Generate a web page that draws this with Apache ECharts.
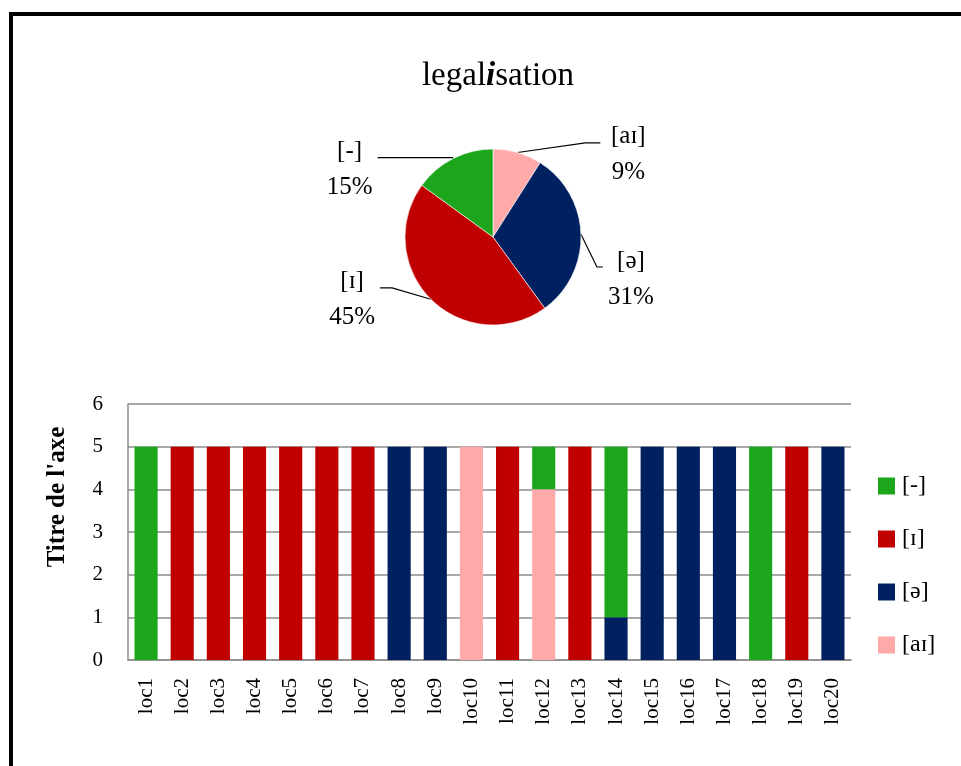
<!DOCTYPE html>
<html><head><meta charset="utf-8">
<script src="https://cdn.jsdelivr.net/npm/echarts@6/dist/echarts.min.js"></script>
<style>html,body{margin:0;padding:0;background:#fff}#c{width:961px;height:766px}</style>
</head><body><div id="c"></div>
<script>
const categories = ['loc1','loc2','loc3','loc4','loc5','loc6','loc7','loc8','loc9','loc10','loc11','loc12','loc13','loc14','loc15','loc16','loc17','loc18','loc19','loc20'];
const legendOrder = ['[-]','[ɪ]','[ə]','[aɪ]'];
const valsDash  = [5,0,0,0,0,0,0,0,0,0,0,1,0,4,0,0,0,5,0,0];
const valsI     = [0,5,5,5,5,5,5,0,0,0,5,0,5,0,0,0,0,0,5,0];
const valsSchwa = [0,0,0,0,0,0,0,5,5,0,0,0,0,1,5,5,5,0,0,5];
const valsAI    = [0,0,0,0,0,0,0,0,0,5,0,4,0,0,0,0,0,0,0,0];
const pieNames  = ['[aɪ]','[ə]','[ɪ]','[-]'];
const pieValues = [9,31,45,15];
const yMin = 0, yMax = 6, yStep = 1;

const FONT = 'Liberation Serif';
const colors = {'[-]':'#1CA61C','[ɪ]':'#C00000','[ə]':'#002060','[aɪ]':'#FFA9A9'};
// label line lengths per pie slice (style, not data)
const pieLineLen = {'[aɪ]':[10,80],'[ə]':[8,14],'[ɪ]':[8,45],'[-]':[1,75]};

const chart = echarts.init(document.getElementById('c'));
const barSeries = [['[aɪ]',valsAI],['[ə]',valsSchwa],['[ɪ]',valsI],['[-]',valsDash]].map(([n,v]) => ({
  name: n, type: 'bar', stack: 'all', data: v, barWidth: '64%',
  itemStyle: {color: colors[n]}, xAxisIndex: 0, yAxisIndex: 0
}));

const pieData = pieNames.map((n,i) => ({
  name: n, value: pieValues[i],
  itemStyle: {color: colors[n]},
  labelLine: {length: pieLineLen[n][0], length2: pieLineLen[n][1]}
}));

chart.setOption({
  animation: false,
  textStyle: {fontFamily: FONT},
  title: {
    text: '{n|legal}{i|i}{n|sation}', left: 493, top: 55, textAlign: 'center',
    textStyle: {fontWeight: 'normal', rich: {
      n: {fontFamily: FONT, fontSize: 33, color: '#000', fontWeight: 'normal'},
      i: {fontFamily: FONT, fontSize: 33, color: '#000', fontStyle: 'italic', fontWeight: 'bold'}
    }}
  },
  legend: {
    data: legendOrder, orient: 'vertical', left: 873, top: 468,
    itemWidth: 17, itemHeight: 17, itemGap: 27, icon: 'rect',
    textStyle: {fontFamily: FONT, fontSize: 24, color: '#000', lineHeight: 26, padding: [0,0,0,2]}
  },
  graphic: [{type: 'rect', shape: {x: 11, y: 14, width: 1000, height: 1000},
    style: {fill: 'none', stroke: '#000', lineWidth: 4}, silent: true, z: 100}],
  grid: {left: 128, right: 110, top: 404, bottom: 106},
  xAxis: {
    type: 'category', data: categories,
    axisLine: {lineStyle: {color: '#8C8C8C', width: 1.5}},
    axisTick: {show: false},
    axisLabel: {rotate: 90, margin: 18, fontFamily: FONT, fontSize: 21, color: '#000', interval: 0}
  },
  yAxis: {
    type: 'value', min: yMin, max: yMax, interval: yStep,
    name: "Titre de l'axe", nameLocation: 'middle', nameGap: 58,
    nameTextStyle: {fontFamily: FONT, fontSize: 25, fontWeight: 'bold', color: '#000', padding: [0,0,0,70]},
    axisLine: {show: true, lineStyle: {color: '#8C8C8C', width: 1.5}},
    axisTick: {show: false},
    splitLine: {lineStyle: {color: '#8C8C8C', width: 1.5}},
    axisLabel: {margin: 25, fontFamily: FONT, fontSize: 21, color: '#000'}
  },
  series: barSeries.concat([{
    type: 'pie', center: [493, 237], radius: 88, startAngle: 90, clockwise: true,
    avoidLabelOverlap: false,
    data: pieData,
    itemStyle: {borderColor: '#fff', borderWidth: 0.6},
    label: {
      show: true, position: 'outside', distanceToLabelLine: 3, padding: [24,0,0,0],
      formatter: p => '{a|' + p.name + '}\n{a|' + Math.round(p.percent) + '%}',
      rich: {a: {width: 50, align: 'center', lineHeight: 36, fontSize: 25, fontFamily: FONT, color: '#000'}}
    },
    labelLine: {show: true, smooth: false, lineStyle: {color: '#000', width: 1.2}},
    labelLayout: function (params) {
      const p = params.labelLinePoints;
      if (!p) return {};
      if (params.dataIndex === 0) {
        return {labelLinePoints: [p[0], [p[2][0] - 15, p[2][1]], p[2]]};
      }
      if (params.dataIndex === 1) {
        const dy = 33;
        return {dy: dy, labelLinePoints: [p[0], [p[1][0] + 8, p[1][1] + dy], [p[2][0], p[2][1] + dy]]};
      }
      if (params.dataIndex === 2) {
        const dy = -17;
        return {dy: dy, labelLinePoints: [p[0], [p[2][0] + 12, p[2][1] + dy], [p[2][0], p[2][1] + dy]]};
      }
      return {};
    }
  }])
});
</script></body></html>
